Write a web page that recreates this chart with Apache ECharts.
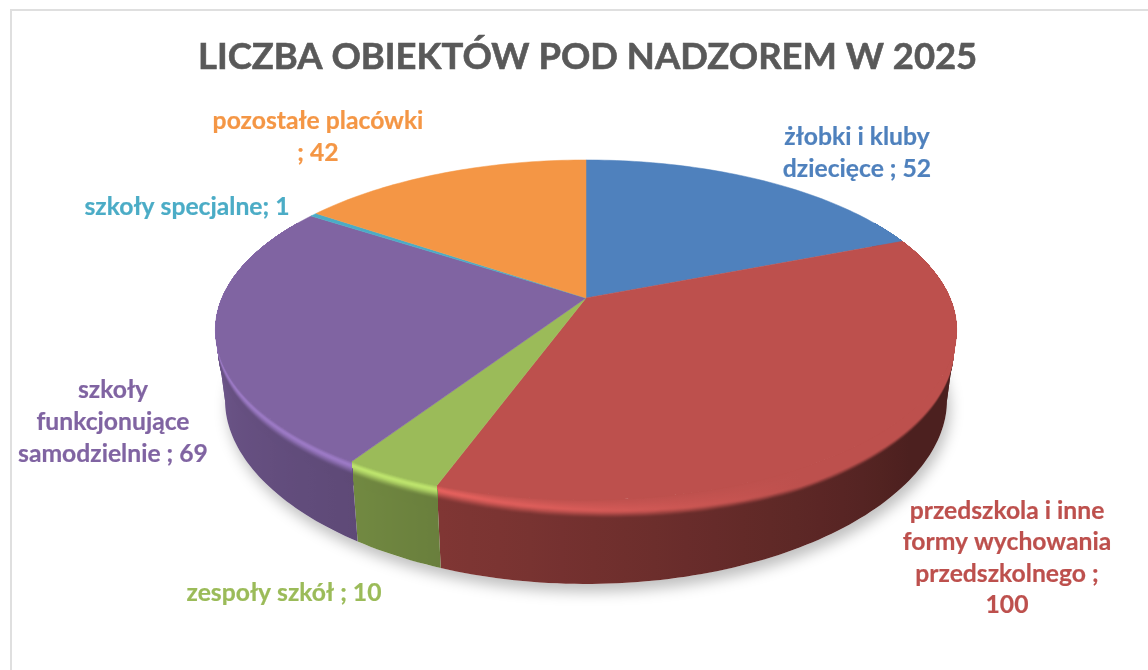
<!DOCTYPE html>
<html>
<head>
<meta charset="utf-8">
<script src="https://cdn.jsdelivr.net/npm/echarts@6/dist/echarts.min.js"></script>
<style>
  html, body { margin: 0; padding: 0; background: #fff; }
  #chart { width: 1148px; height: 670px; }
</style>
</head>
<body>
<div id="chart"></div>
<script>
var titleText = 'LICZBA OBIEKTÓW POD NADZOREM W 2025';
var categories = [
  'żłobki i kluby\ndziecięce ',
  'przedszkola i inne\nformy wychowania\nprzedszkolnego ;\n',
  'zespoły szkół ',
  'szkoły\nfunkcjonujące\nsamodzielnie ',
  'szkoły specjalne',
  'pozostałe placówki\n'
];
var values = [52, 100, 10, 69, 1, 42];
var colors = ['#4f81bd', '#bd504d', '#9bbb59', '#8064a2', '#4bacc6', '#f49645'];

// label centres, same order as categories
var labelX = [857, 1007, 284, 113, 187, 318];
var labelY = [153, 558, 593, 422, 207, 137];

var pie = { cx: 586, cy: 298, a: 164, b: 364, k: 0.188, depth: 84, shrink: 0.026 };
var total = values.reduce(function (s, v) { return s + v; }, 0);
var RAD = Math.PI / 180;
// angles where the rim turns back in x
var EXTREME_R = Math.acos(-pie.k);
var EXTREME_L = Math.PI * 2 - EXTREME_R;

function sliceAngles (i) {
  var before = 0;
  for (var j = 0; j < i; j++) before += values[j];
  return [before / total * Math.PI * 2, (before + values[i]) / total * Math.PI * 2];
}

// t = 0 top rim, t = 1 bottom rim
function rim (th, t) {
  var u = Math.sin(th), v = Math.cos(th), w = 1 + pie.k * v;
  var x = pie.b * u / w, y = -pie.a * v / w;
  var dy = (pie.depth - 14 * u * u) * t;
  return [pie.cx + x * (1 - pie.shrink * t), pie.cy + y + dy];
}

function rgb (hex) {
  return [1, 3, 5].map(function (p) { return parseInt(hex.substr(p, 2), 16); });
}
function mix (a, b, f) {
  return a.map(function (c, i) { return c + (b[i] - c) * f; });
}
function css (c) {
  return 'rgb(' + c.map(function (n) { return Math.round(Math.min(255, n)); }).join(',') + ')';
}
function scale (c, m) {
  return c.map(function (n) { return n * m; });
}

// how much the side wall is darkened, by angle in degrees
function wallShade (deg) {
  if (deg < 125) return 0.4;
  if (deg < 200) return 0.4 + (deg - 125) / 75 * 0.28;
  if (deg < 215) return 0.68 + (deg - 200) / 15 * 0.06;
  if (deg < 270) return 0.74 + (deg - 215) / 55 * 0.12;
  return 0.86;
}
function highlight (deg) {
  return Math.max(0, Math.min(1, (deg - 150) / 50));
}

// colour of the rounded edge at height t and angle deg
function edgeColor (base, deg, t) {
  var h = highlight(deg);
  var wall = scale(base, wallShade(deg));
  var top = mix(base, scale(base, 1.22), h);
  var peak = 0.05 + 0.17 * (1 - h);
  var end = 0.18 + 0.12 * (1 - h);
  if (t <= peak) return mix(base, top, t / peak);
  var f = Math.min(1, (t - peak) / (end - peak));
  return mix(top, wall, f * f * (3 - 2 * f));
}

// horizontal gradient over the front of the side, where x runs one way with the angle
function bandFill (base, th1, th2, t) {
  var a = Math.max(th1, EXTREME_R), b = Math.min(th2, EXTREME_L);
  if (b <= a) return css(edgeColor(base, th1 / RAD, t));
  var stops = [];
  var n = 24;
  var x0 = rim(a, t)[0], x1 = rim(b, t)[0];
  for (var s = 0; s <= n; s++) {
    var th = a + (b - a) * s / n;
    stops.push({
      offset: Math.max(0, Math.min(1, (rim(th, t)[0] - x0) / ((x1 - x0) || 1))),
      color: css(edgeColor(base, th / RAD, t))
    });
  }
  return { type: 'linear', x: x0, y: 0, x2: x1, y2: 0, global: true, colorStops: stops };
}

function band (th1, th2, t, fill) {
  var n = Math.ceil((th2 - th1) / 0.02);
  var pts = [];
  for (var s = 0; s <= n; s++) pts.push(rim(th1 + (th2 - th1) * s / n, 0));
  for (s = n; s >= 0; s--) pts.push(rim(th1 + (th2 - th1) * s / n, t));
  return { type: 'polygon', silent: true, shape: { points: pts }, style: { fill: fill } };
}

// one polygon would fold over itself at the left and right extremes, so cut it there
function bands (th1, th2, t, fill, out) {
  var cuts = [th1];
  if (EXTREME_R > th1 && EXTREME_R < th2) cuts.push(EXTREME_R);
  if (EXTREME_L > th1 && EXTREME_L < th2) cuts.push(EXTREME_L);
  cuts.push(th2);
  for (var c = 0; c < cuts.length - 1; c++) out.push(band(cuts[c], cuts[c + 1], t, fill));
}

function renderSide (params) {
  var ang = sliceAngles(params.dataIndex);
  var th1 = Math.max(ang[0], 60 * RAD), th2 = Math.min(ang[1], 300 * RAD);
  var kids = [];
  if (th2 <= th1) return { type: 'group', children: kids };
  var base = rgb(colors[params.dataIndex]);
  bands(th1, th2, 1, bandFill(base, th1, th2, 1), kids);
  // painted from the outside in so no seams show between the bands
  for (var t = 0.3; t > 0.001; t -= 0.012) {
    bands(th1, th2, t, bandFill(base, th1, th2, t), kids);
  }
  return { type: 'group', children: kids };
}

function renderTop (params) {
  var i = params.dataIndex;
  var ang = sliceAngles(i);
  var n = Math.ceil((ang[1] - ang[0]) / 0.02);
  var pts = [[pie.cx, pie.cy]];
  for (var s = 0; s <= n; s++) pts.push(rim(ang[0] + (ang[1] - ang[0]) * s / n, 0));
  return {
    type: 'polygon',
    silent: true,
    shape: { points: pts },
    style: { fill: colors[i], stroke: colors[i], lineWidth: 0.5 }
  };
}

function renderShadow () {
  var pts = [];
  for (var s = 0; s < 180; s++) pts.push(rim(s / 180 * Math.PI * 2, 1));
  return {
    type: 'polygon',
    silent: true,
    shape: { points: pts },
    style: { fill: '#fff', shadowBlur: 14, shadowColor: 'rgba(0,0,0,0.25)', shadowOffsetX: 3, shadowOffsetY: 8 }
  };
}

function renderLabel (params, api) {
  var i = params.dataIndex;
  var txt = categories[i] + (/;\n$/.test(categories[i]) ? '' : '; ') + api.value(1);
  return {
    type: 'text',
    silent: true,
    x: labelX[i],
    y: labelY[i],
    style: {
      text: txt,
      fill: colors[i],
      stroke: colors[i],
      lineWidth: 0.2,
      fontFamily: 'Lato',
      fontWeight: 'bold',
      fontSize: 24.7,
      lineHeight: 31.6,
      align: 'center',
      verticalAlign: 'middle'
    }
  };
}

var seriesData = values.map(function (v, i) { return [i, v]; });
var chart = echarts.init(document.getElementById('chart'), null, { renderer: 'canvas' });
chart.setOption({
  animation: false,
  backgroundColor: '#fff',
  title: {
    text: titleText,
    left: 198,
    top: 39,
    padding: 0,
    textStyle: {
      fontFamily: 'Lato',
      fontWeight: 'bold',
      fontSize: 36.4,
      color: '#595959',
      textBorderColor: '#595959',
      textBorderWidth: 0.6
    }
  },
  graphic: [
    { type: 'rect', silent: true, shape: { x: 10, y: 9, width: 1138, height: 2 }, style: { fill: '#dfdfdf' } },
    { type: 'rect', silent: true, shape: { x: 10, y: 9, width: 2, height: 661 }, style: { fill: '#dfdfdf' } }
  ],
  series: [
    { type: 'custom', coordinateSystem: 'none', renderItem: renderShadow, data: [[0, 0]], z: 1 },
    { type: 'custom', coordinateSystem: 'none', renderItem: renderSide, data: seriesData, z: 2 },
    { type: 'custom', coordinateSystem: 'none', renderItem: renderTop, data: seriesData, z: 3 },
    { type: 'custom', coordinateSystem: 'none', renderItem: renderLabel, data: seriesData, z: 4 }
  ]
});
</script>
</body>
</html>
